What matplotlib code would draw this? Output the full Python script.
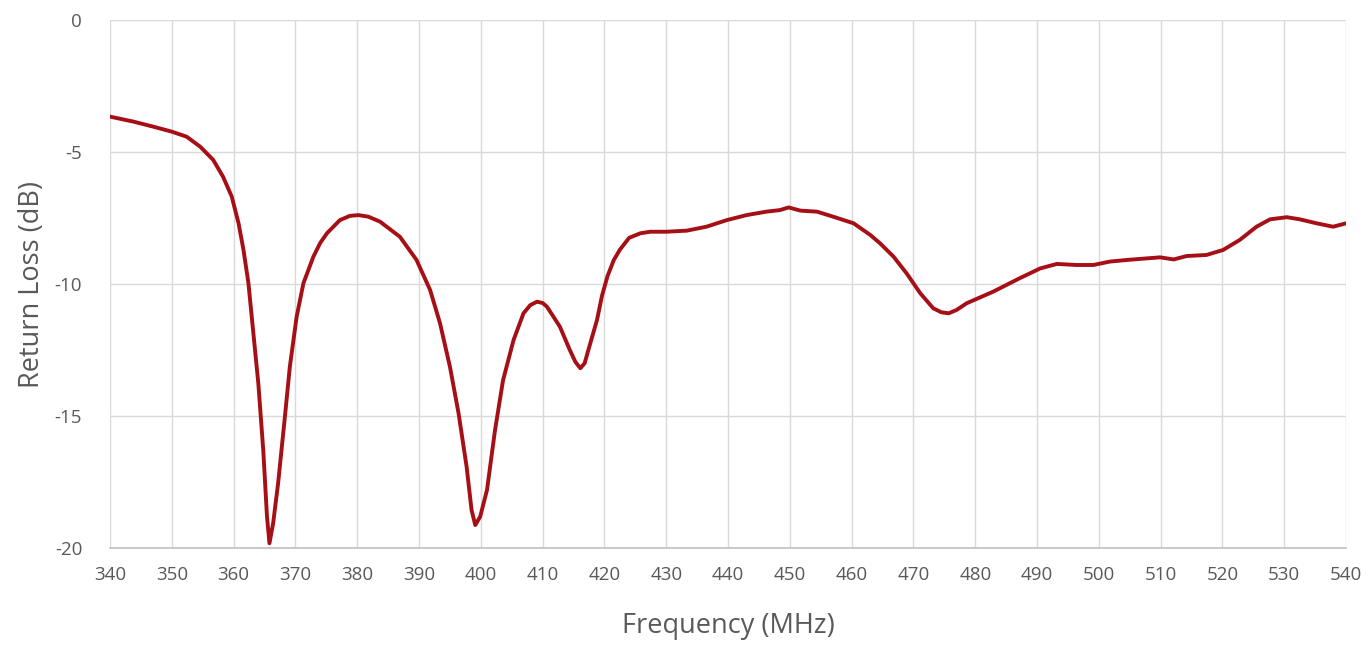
import matplotlib.pyplot as plt

# return loss readings (MHz, dB)
freq = [340.0, 343.8, 347.0, 350.0, 352.4, 354.6, 356.7, 358.3, 359.7, 360.8,
        361.6, 362.4, 363.2, 364.0, 364.8, 365.4, 365.8, 366.4, 367.2, 368.3,
        369.1, 370.2, 371.3, 372.9, 374.0, 375.1, 377.2, 378.8, 380.2, 381.8,
        383.7, 386.9, 389.6, 391.8, 393.4, 395.0, 396.4, 397.7, 398.5, 399.1,
        399.9, 401.0, 402.3, 403.6, 405.3, 406.9, 408.0, 409.1, 410.0, 410.7,
        412.8, 414.4, 415.3, 416.1, 416.8, 417.4, 418.8, 419.6, 420.5, 421.5,
        422.5, 424.0, 425.8, 427.4, 430.0, 433.3, 436.5, 439.8, 443.0, 446.2,
        448.4, 449.8, 451.7, 454.4, 457.0, 460.3, 463.0, 464.6, 466.8, 468.9,
        471.1, 473.2, 474.5, 475.7, 477.0, 478.6, 482.9, 487.2, 490.5, 493.2,
        496.4, 499.1, 501.8, 504.5, 509.9, 512.1, 514.2, 517.4, 520.1, 522.8,
        525.5, 527.7, 530.4, 532.5, 535.2, 537.9, 540.0]
return_loss = [-3.66, -3.85, -4.04, -4.23, -4.42, -4.80, -5.30, -5.94, -6.69, -7.70,
               -8.71, -9.97, -11.87, -13.76, -16.30, -18.80, -19.82, -19.06, -17.55, -15.03,
               -13.13, -11.24, -9.97, -8.97, -8.45, -8.08, -7.58, -7.42, -7.39, -7.45,
               -7.64, -8.21, -9.09, -10.23, -11.49, -13.13, -14.90, -16.92, -18.56, -19.13,
               -18.81, -17.80, -15.53, -13.64, -12.12, -11.11, -10.80, -10.67, -10.72, -10.86,
               -11.62, -12.50, -12.95, -13.19, -13.00, -12.50, -11.36, -10.45, -9.70, -9.10,
               -8.70, -8.25, -8.08, -8.02, -8.02, -7.98, -7.83, -7.58, -7.39, -7.26,
               -7.20, -7.10, -7.22, -7.26, -7.45, -7.70, -8.14, -8.46, -8.97, -9.60,
               -10.35, -10.92, -11.07, -11.11, -10.98, -10.73, -10.29, -9.78, -9.41, -9.24,
               -9.28, -9.28, -9.15, -9.09, -8.99, -9.07, -8.94, -8.90, -8.71, -8.33,
               -7.83, -7.55, -7.47, -7.55, -7.70, -7.83, -7.70]

x_ticks = list(range(340, 541, 10))
y_ticks = [0, -5, -10, -15, -20]

plt.rcParams['font.family'] = ['Open Sans', 'DejaVu Sans']
plt.rcParams['axes.unicode_minus'] = False
grey = '#595959'

fig = plt.figure(figsize=(13.68, 6.49), dpi=100)
ax = fig.add_axes([0.0804, 0.1556, 0.9036, 0.8136])

ax.plot(freq, return_loss, color='#A50F15', linewidth=2.8, solid_capstyle='round',
        solid_joinstyle='round', zorder=3)

ax.set_xlim(340, 540)
ax.set_ylim(-20, 0)
ax.set_xticks(x_ticks)
ax.set_yticks(y_ticks)
ax.grid(True, color='#D9D9D9', linewidth=1)
ax.set_axisbelow(True)

for s in ['top', 'right', 'left']:
    ax.spines[s].set_visible(False)
ax.spines['bottom'].set_color('#BFBFBF')
ax.spines['bottom'].set_linewidth(1.2)

ax.tick_params(axis='both', length=0, labelsize=13.5, labelcolor=grey)
ax.tick_params(axis='x', pad=13)
ax.tick_params(axis='y', pad=20)

ax.set_xlabel('Frequency (MHz)', fontsize=19.5, color=grey, labelpad=20)
ax.set_ylabel('Return Loss (dB)', fontsize=19.5, color=grey, labelpad=6)

fig.savefig('out.png', dpi=100)
